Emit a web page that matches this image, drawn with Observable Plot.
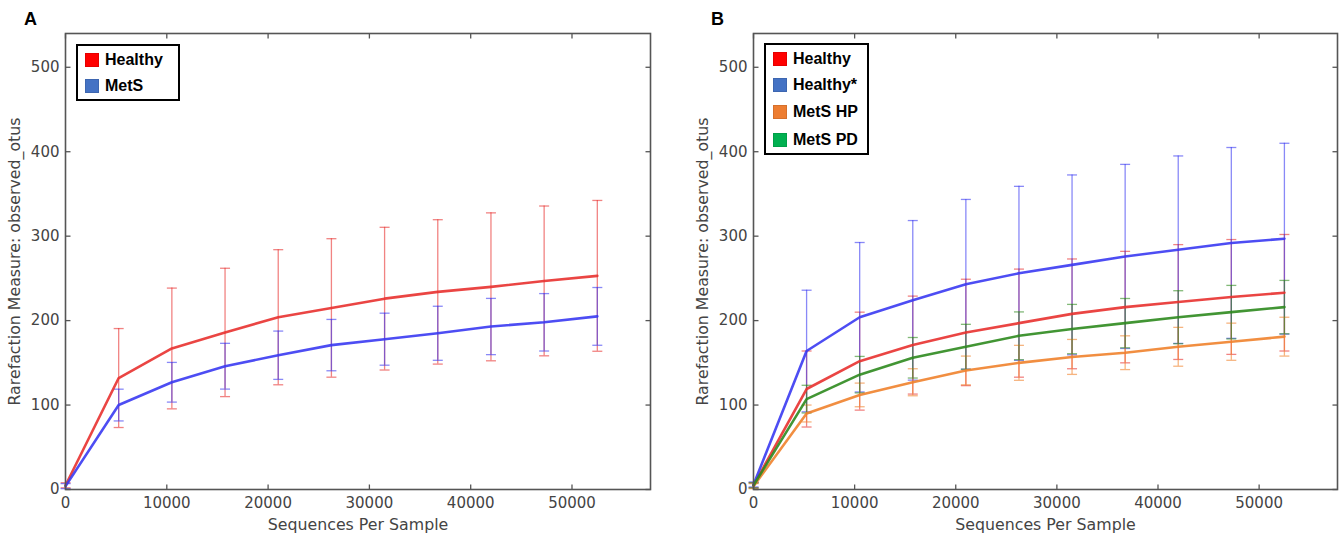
<!DOCTYPE html>
<html>
<head>
<meta charset="utf-8">
<script src="https://cdn.jsdelivr.net/npm/d3@7"></script>
<script src="https://cdn.jsdelivr.net/npm/@observablehq/plot@0.6"></script>
<style>
  html, body { margin: 0; padding: 0; background: #fff; }
  #wrap { position: relative; width: 1344px; height: 534px; overflow: hidden; }
  .panel { position: absolute; top: 0; }
  .panel g[aria-label="x-axis label"] text, .panel g[aria-label="y-axis label"] text { font-size: 15.8px; }
  .letter { position: absolute; font-family: "Liberation Sans", Arial, sans-serif; font-weight: bold; font-size: 18px; color: #000; }
  .legend { position: absolute; box-sizing: border-box; border: 2px solid #000; background: #fff; padding-top: 1px;
            font-family: "Liberation Sans", Arial, sans-serif; font-weight: bold; font-size: 16px; color: #000; }
  .legend .row { position: relative; display: flex; align-items: center; }
  .legend .sw { position: absolute; left: 7px; width: 14px; height: 14px; box-sizing: border-box; }
  .legend .lb { position: absolute; left: 27px; white-space: nowrap; }
</style>
</head>
<body>
<div id="wrap"></div>
<script>
// ---------- data ----------
const depths = [10, 5250, 10500, 15750, 21000, 26250, 31500, 36750, 42000, 47250, 52500];
const xTicks = [0, 10000, 20000, 30000, 40000, 50000];
const yTicks = [0, 100, 200, 300, 400, 500];

// Panel A
const healthyA_mean = [5, 132, 167, 186, 204, 215, 226, 234, 240, 247, 253];
const healthyA_sd   = [3, 58.6, 71.5, 76, 80, 82, 84.5, 85.5, 87.6, 88.7, 89.3];
const metsA_mean    = [4, 100, 127, 146, 159, 171, 178, 185, 193, 198, 205];
const metsA_sd      = [3, 18.8, 23.5, 27.1, 28.6, 30.4, 30.8, 32, 33.3, 34, 34.2];

// Panel B
const healthyB_mean    = [5, 119, 152, 171, 186, 197, 208, 216, 222, 228, 233];
const healthyB_sd      = [3, 45, 58, 58, 63, 64, 65, 66, 68, 68, 69];
const healthyStar_mean = [6, 164, 204, 224, 243, 256, 266, 276, 284, 292, 297];
const healthyStar_sd   = [3, 72, 88.5, 94.5, 100.5, 103, 106.5, 109, 111, 113, 113];
const metsHP_mean      = [4, 90, 112, 127, 141, 150, 157, 162, 169, 175, 181];
const metsHP_sd        = [3, 10, 14, 16, 17, 20.7, 20.7, 20, 23, 22, 23];
const metsPD_mean      = [5, 107, 136, 156, 169, 182, 190, 197, 204, 210, 216];
const metsPD_sd        = [3, 16.4, 21.6, 24, 26.6, 28.3, 29.2, 29.2, 31.4, 31.7, 31.6];

const legendA = ["Healthy", "MetS"];
const legendB = ["Healthy", "Healthy*", "MetS HP", "MetS PD"];
const swatchColors = {"Healthy": "#ff0000", "MetS": "#4472c4", "Healthy*": "#4472c4", "MetS HP": "#ed7d31", "MetS PD": "#00b050"};

const RED = "#e8312f", BLUE = "#3a3af2", GREEN = "#2e8a1e", ORANGE = "#f0822c";

function rows(mean, sd) {
  return depths.map((x, i) => ({x, mean: mean[i], lo: mean[i] - sd[i], hi: mean[i] + sd[i]}));
}

const seriesA = [
  {name: "Healthy", color: RED, data: rows(healthyA_mean, healthyA_sd)},
  {name: "MetS", color: BLUE, data: rows(metsA_mean, metsA_sd)}
];
const seriesB = [
  {name: "Healthy", color: RED, data: rows(healthyB_mean, healthyB_sd)},
  {name: "Healthy*", color: BLUE, data: rows(healthyStar_mean, healthyStar_sd)},
  {name: "MetS HP", color: ORANGE, data: rows(metsHP_mean, metsHP_sd)},
  {name: "MetS PD", color: GREEN, data: rows(metsPD_mean, metsPD_sd)}
];

// ---------- symbols ----------
const capSym = {draw(ctx) { ctx.moveTo(-5, 0); ctx.lineTo(5, 0); }};
const tUp = {draw(ctx) { ctx.moveTo(0, 0); ctx.lineTo(0, -5); }};
const tDown = {draw(ctx) { ctx.moveTo(0, 0); ctx.lineTo(0, 5); }};
const tRight = {draw(ctx) { ctx.moveTo(0, 0); ctx.lineTo(5, 0); }};
const tLeft = {draw(ctx) { ctx.moveTo(0, 0); ctx.lineTo(-5, 0); }};

const AX = "#555";

function makePanel(series, width, marginLeft, marginRight) {
  const marks = [];
  for (const s of series) {
    marks.push(Plot.ruleX(s.data, {x: "x", y1: "lo", y2: "hi", stroke: s.color, strokeOpacity: 0.6, strokeWidth: 1.3}));
    marks.push(Plot.dot(s.data, {x: "x", y: "lo", symbol: capSym, stroke: s.color, fill: "none", strokeOpacity: 0.6, strokeWidth: 1.3}));
    marks.push(Plot.dot(s.data, {x: "x", y: "hi", symbol: capSym, stroke: s.color, fill: "none", strokeOpacity: 0.6, strokeWidth: 1.3}));
  }
  for (const s of series) {
    marks.push(Plot.line(s.data, {x: "x", y: "mean", stroke: s.color, strokeWidth: 2.6, strokeOpacity: 0.9}));
  }
  marks.push(Plot.frame({stroke: AX, strokeWidth: 1.6}));
  marks.push(Plot.dot(xTicks, {x: d => d, frameAnchor: "bottom", symbol: tUp, stroke: AX, fill: "none", strokeWidth: 1.3}));
  marks.push(Plot.dot(xTicks, {x: d => d, frameAnchor: "top", symbol: tDown, stroke: AX, fill: "none", strokeWidth: 1.3}));
  marks.push(Plot.dot(yTicks, {y: d => d, frameAnchor: "left", symbol: tRight, stroke: AX, fill: "none", strokeWidth: 1.3}));
  marks.push(Plot.dot(yTicks, {y: d => d, frameAnchor: "right", symbol: tLeft, stroke: AX, fill: "none", strokeWidth: 1.3}));
  marks.push(Plot.axisX({ticks: xTicks, tickSize: 0, tickPadding: 8, tickFormat: d3.format("d"),
    label: "Sequences Per Sample", labelAnchor: "center", labelOffset: 40, labelArrow: "none", fill: "#444"}));
  marks.push(Plot.axisY({ticks: yTicks, tickSize: 0, tickPadding: 6, tickFormat: d3.format("d"),
    label: "Rarefaction Measure: observed_otus", labelAnchor: "center", labelOffset: 57, labelArrow: "none", fill: "#444"}));
  return Plot.plot({
    width, height: 534,
    marginTop: 33, marginBottom: 45, marginLeft, marginRight,
    x: {domain: [0, 57750]},
    y: {domain: [0, 540]},
    style: {fontFamily: "DejaVu Sans, sans-serif", fontSize: "15px", color: "#444", background: "transparent", overflow: "visible"},
    marks
  });
}

const wrap = document.getElementById("wrap");

function place(el, left) {
  el.classList.add("panel");
  el.style.left = left + "px";
  wrap.appendChild(el);
}

place(makePanel(seriesA, 680, 65, 30), 0);
place(makePanel(seriesB, 664, 73, 7), 680);

function letter(t, left, top) {
  const d = document.createElement("div");
  d.className = "letter";
  d.textContent = t;
  d.style.left = left + "px";
  d.style.top = top + "px";
  wrap.appendChild(d);
}
letter("A", 24, 9);
letter("B", 711, 9);

function legend(items, left, top, width, rowHeights) {
  const box = document.createElement("div");
  box.className = "legend";
  box.style.left = left + "px";
  box.style.top = top + "px";
  box.style.width = width + "px";
  items.forEach((name, i) => {
    const r = document.createElement("div");
    r.className = "row";
    r.style.height = rowHeights[i] + "px";
    const sw = document.createElement("div");
    sw.className = "sw";
    sw.style.background = swatchColors[name];
    sw.style.border = "1px solid " + d3.color(swatchColors[name]).darker(0.3);
    const lb = document.createElement("div");
    lb.className = "lb";
    lb.textContent = name;
    r.appendChild(sw);
    r.appendChild(lb);
    box.appendChild(r);
  });
  wrap.appendChild(box);
}
legend(legendA, 76, 44, 104, [26, 26]);
legend(legendB, 764, 43, 105, [26, 26, 28, 27]);
</script>
</body>
</html>
